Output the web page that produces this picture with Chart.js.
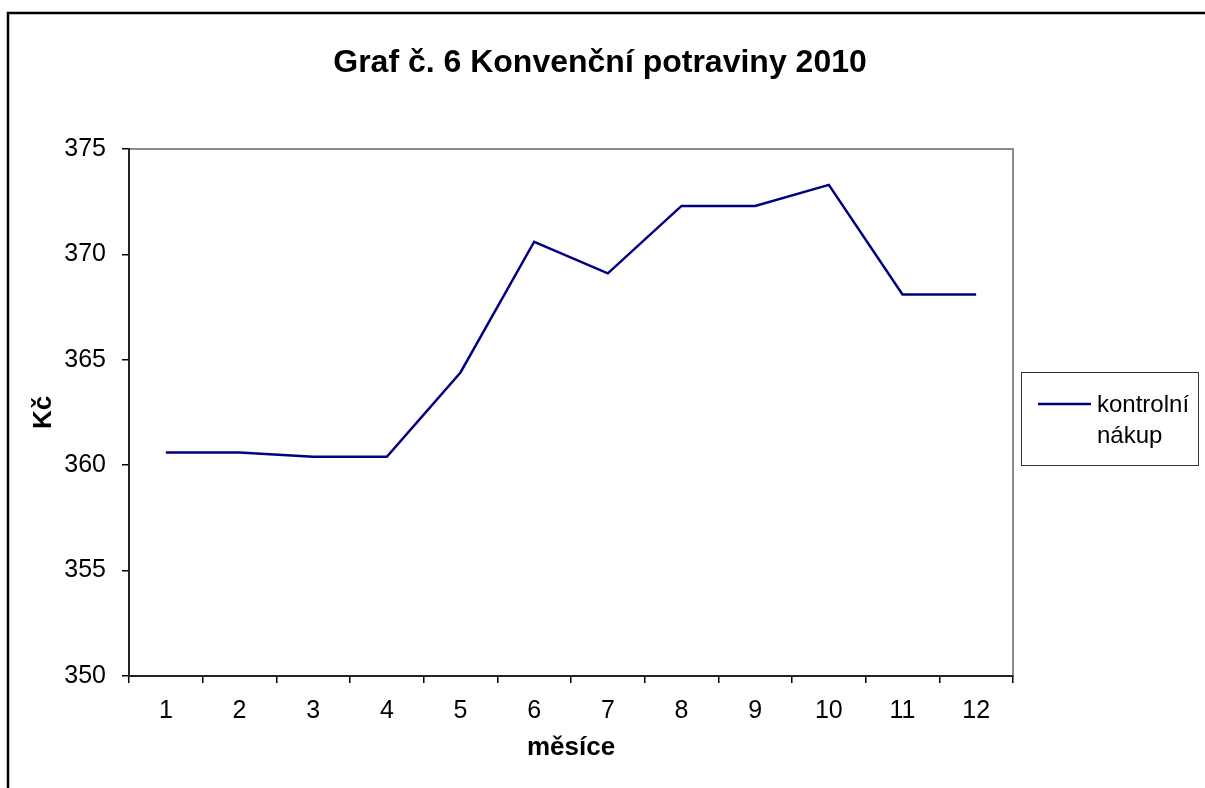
<!DOCTYPE html>
<html>
<head>
<meta charset="utf-8">
<script src="https://cdn.jsdelivr.net/npm/chart.js@4"></script>
<style>
  html, body { margin: 0; padding: 0; background: #fff; }
  #wrap { width: 1205px; height: 788px; }
</style>
</head>
<body>
<div id="wrap"><canvas id="lineChart" width="1205" height="788"></canvas></div>
<script>
const months = ['1', '2', '3', '4', '5', '6', '7', '8', '9', '10', '11', '12'];
const prices = [360.6, 360.6, 360.4, 360.4, 364.4, 370.6, 369.1, 372.3, 372.3, 373.3, 368.1, 368.1];
const seriesName = ['kontrolní', 'nákup'];
const chartTitle = 'Graf č. 6 Konvenční potraviny 2010';

const FONT = '"Liberation Sans", Arial, sans-serif';

// frame, title, plot border and the boxed legend
const decor = {
    id: 'decor',
    beforeDraw(chart) {
        const ctx = chart.ctx;
        const a = chart.chartArea;
        ctx.save();
        ctx.strokeStyle = '#000';
        ctx.lineWidth = 2.5;
        ctx.beginPath();
        ctx.moveTo(8, 800);
        ctx.lineTo(8, 13);
        ctx.lineTo(1215, 13);
        ctx.stroke();

        ctx.strokeStyle = '#8c8c8c';
        ctx.lineWidth = 2;
        ctx.strokeRect(a.left, a.top, a.right - a.left, a.bottom - a.top);

        ctx.fillStyle = '#000';
        ctx.font = 'bold 32px ' + FONT;
        ctx.textAlign = 'center';
        ctx.textBaseline = 'middle';
        ctx.fillText(chartTitle, 600, 63);
        ctx.restore();
    },
    afterDraw(chart) {
        const ctx = chart.ctx;
        const ds = chart.data.datasets[0];
        ctx.save();
        ctx.fillStyle = '#fff';
        ctx.fillRect(1021, 372, 177, 93);
        ctx.strokeStyle = '#333';
        ctx.lineWidth = 1;
        ctx.strokeRect(1021.5, 372.5, 177, 93);
        ctx.strokeStyle = ds.borderColor;
        ctx.lineWidth = ds.borderWidth;
        ctx.beginPath();
        ctx.moveTo(1038, 404);
        ctx.lineTo(1091, 404);
        ctx.stroke();
        ctx.fillStyle = '#000';
        ctx.font = '24px ' + FONT;
        ctx.textAlign = 'left';
        ctx.textBaseline = 'middle';
        seriesName.forEach((t, i) => ctx.fillText(t, 1097, 405 + i * 31));
        ctx.restore();
    }
};

const ctx = document.getElementById('lineChart').getContext('2d');
const lineChart = new Chart(ctx, {
    type: 'line',
    data: {
        labels: months,
        datasets: [{
            label: seriesName.join(' '),
            data: prices,
            borderColor: '#000080',
            borderWidth: 2.5,
            pointRadius: 0,
            tension: 0,
            fill: false
        }]
    },
    options: {
        responsive: false,
        animation: false,
        layout: { padding: { top: 149, right: 192, left: 0, bottom: 0 } },
        plugins: {
            legend: { display: false },
            title: { display: false },
            tooltip: { enabled: false }
        },
        scales: {
            x: {
                offset: true,
                afterFit(scale) { scale.height = 112; },
                grid: {
                    offset: true,
                    drawOnChartArea: false,
                    drawTicks: true,
                    tickLength: 7,
                    color: '#000',
                    lineWidth: 1.5
                },
                border: { color: '#222', width: 2 },
                ticks: {
                    color: '#000',
                    padding: 13,
                    maxRotation: 0,
                    font: { family: FONT, size: 25 }
                },
                title: {
                    display: true,
                    text: 'měsíce',
                    color: '#000',
                    font: { family: FONT, size: 26, weight: 'bold' },
                    padding: { top: 0, bottom: 25 }
                }
            },
            y: {
                min: 350,
                max: 375,
                afterFit(scale) { scale.width = 129; },
                grid: {
                    drawOnChartArea: false,
                    drawTicks: true,
                    tickLength: 7,
                    color: '#000',
                    lineWidth: 1.5
                },
                border: { color: '#222', width: 2 },
                ticks: {
                    stepSize: 5,
                    color: '#000',
                    padding: 16,
                    font: { family: FONT, size: 25 }
                },
                title: {
                    display: true,
                    text: 'Kč',
                    color: '#000',
                    font: { family: FONT, size: 26, weight: 'bold' },
                    padding: { top: 28, bottom: 0 }
                }
            }
        }
    },
    plugins: [decor]
});
</script>
</body>
</html>
